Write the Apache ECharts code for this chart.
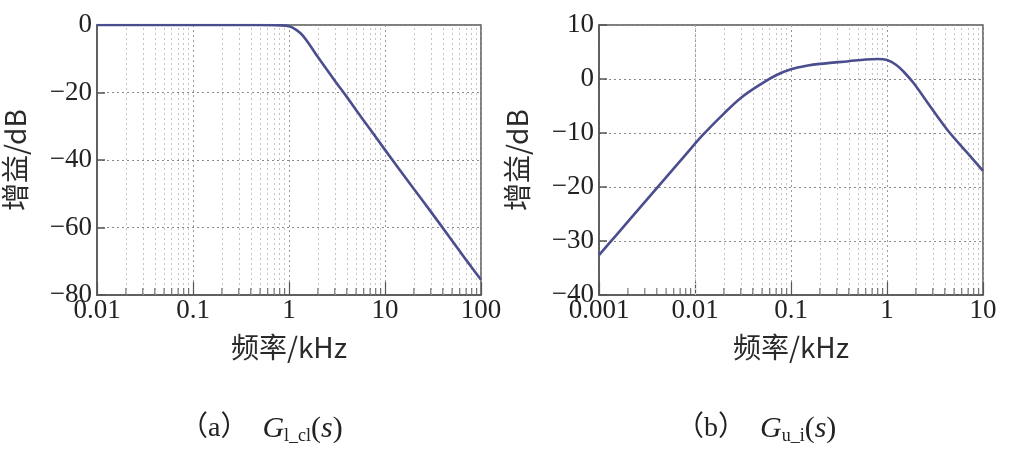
<!DOCTYPE html>
<html>
<head>
<meta charset="utf-8">
<script src="https://cdn.jsdelivr.net/npm/echarts@6/dist/echarts.min.js"></script>
<style>
html,body{margin:0;padding:0;background:#fff;}
#c{width:1009px;height:463px;}
</style>
</head>
<body>
<div id="c"></div>
<script>
// ---- data (frequency in kHz, gain in dB) ----
const freqA = [0.01, 0.1, 0.5, 0.8, 1.0, 1.2, 1.4, 1.7, 2, 3, 4, 5, 7, 10, 20, 30, 50, 70, 100];
const gainA = [0, 0, 0, -0.1, -0.4, -1.5, -3.2, -6.5, -9.5, -16.5, -21.3, -25.2, -30.9, -37, -48.6, -55.3, -63.9, -69.6, -75.5];

const freqB = [0.001, 0.0015, 0.002, 0.004, 0.008, 0.012, 0.02, 0.03, 0.05, 0.07, 0.1, 0.15, 0.2, 0.4, 0.6, 0.8, 1.0, 1.25, 1.5, 1.9, 2.8, 4.2, 6.8, 10];
const gainB = [-32.6, -29.0, -26.4, -20.2, -14.0, -10.4, -6.4, -3.5, -0.8, 0.7, 1.8, 2.5, 2.8, 3.3, 3.6, 3.7, 3.5, 2.6, 1.3, -0.8, -5.0, -9.3, -13.6, -17.0];

const xRangeA = [0.01, 100];
const xRangeB = [0.001, 10];
const yRangeA = [-80, 0], yStepA = 20;
const yRangeB = [-40, 10], yStepB = 10;

const xName = '频率/kHz';
const yName = '增益/dB';
const captionA = ['（a）', 'G', 'l_cl', '(', 's', ')'];
const captionB = ['（b）', 'G', 'u_i', '(', 's', ')'];

// minor (2..9 per decade) positions
function minorPositions(lo, hi) {
  const out = [];
  for (let d = lo; d < hi * 0.999; d *= 10) {
    for (let k = 2; k <= 9; k++) out.push(+(d * k).toPrecision(6));
  }
  return out;
}

const serif = 'Liberation Serif';
const lineColor = '#4b4e8e';
const fmtNum = v => String(v).replace('-', '\u2212');

function xAxisCfg(idx, range) {
  return {
    type: 'log', logBase: 10, gridIndex: idx, min: range[0], max: range[1],
    name: xName, nameLocation: 'middle', nameGap: 38,
    nameTextStyle: { fontFamily: 'Noto Sans CJK SC', fontSize: 28, color: '#2a2a2a' },
    axisLine: { show: true, onZero: false, lineStyle: { color: '#555', width: 1.5 } },
    axisTick: { show: true, inside: true, length: 13, lineStyle: { color: '#555', width: 1.2 } },
    axisLabel: { fontFamily: serif, fontSize: 27, color: '#222', margin: 2,
      formatter: v => String(+v.toPrecision(6)) },
    splitLine: { show: true, lineStyle: { color: '#9a9a9a', type: [2, 3], width: 1 } }
  };
}
function yAxisCfg(idx, range, step) {
  return {
    type: 'value', gridIndex: idx, min: range[0], max: range[1], interval: step,
    name: yName, nameLocation: 'middle', nameGap: 68, nameRotate: 90,
    nameTextStyle: { fontFamily: 'Noto Sans CJK SC', fontSize: 28, color: '#2a2a2a' },
    axisLine: { show: true, onZero: false, lineStyle: { color: '#555', width: 1.5 } },
    axisTick: { show: true, inside: true, length: 8, lineStyle: { color: '#555', width: 1.5 } },
    axisLabel: { fontFamily: serif, fontSize: 27, color: '#222', margin: 5, formatter: fmtNum },
    splitLine: { show: true, lineStyle: { color: '#8a8a8a', type: [2, 3], width: 1 } }
  };
}
function curveSeries(idx, fr, gn, xr, yr) {
  const minors = minorPositions(xr[0], xr[1]);
  return [{
    type: 'line', xAxisIndex: idx, yAxisIndex: idx,
    data: fr.map((f, i) => [f, gn[i]]),
    showSymbol: false, smooth: 0.35, z: 5,
    lineStyle: { color: lineColor, width: 2.6 },
    markLine: {
      silent: true, symbol: 'none', label: { show: false }, z: 1,
      lineStyle: { color: '#c4c4c4', type: [2, 3], width: 1 },
      data: minors.map(f => ({ xAxis: f }))
    }
  }, {
    type: 'scatter', xAxisIndex: idx, yAxisIndex: idx, silent: true, z: 4,
    symbol: 'rect', symbolSize: [1.2, 7], symbolOffset: [0, -3.5],
    itemStyle: { color: '#555' },
    data: minors.map(f => [f, yr[0]])
  }];
}

function captionText(parts) {
  return `{p|${parts[0]}}{g|${parts[1]}}{sub|${parts[2]}}{n|${parts[3]}}{s|${parts[4]}}{n|${parts[5]}}`;
}
const richStyles = {
  p: { fontFamily: 'Liberation Serif, Noto Sans CJK SC', fontSize: 28, fill: '#222', lineHeight: 32 },
  g: { fontFamily: serif, fontStyle: 'italic', fontSize: 30, fill: '#222', lineHeight: 32, padding: [0, 0, 0, 14] },
  sub: { fontFamily: serif, fontSize: 18, fill: '#222', verticalAlign: 'bottom', lineHeight: 24, padding: [13, 0, 0, 0] },
  n: { fontFamily: serif, fontSize: 30, fill: '#222', lineHeight: 32 },
  s: { fontFamily: serif, fontStyle: 'italic', fontSize: 30, fill: '#222', lineHeight: 32 }
};

const chart = echarts.init(document.getElementById('c'), null, { renderer: 'canvas' });
chart.setOption({
  backgroundColor: '#ffffff',
  animation: false,
  grid: [
    { left: 96, right: 528, top: 25, bottom: 168, show: true, borderColor: '#555', borderWidth: 1.5 },
    { left: 599, right: 26, top: 25, bottom: 168, show: true, borderColor: '#555', borderWidth: 1.5 }
  ],
  xAxis: [xAxisCfg(0, xRangeA), xAxisCfg(1, xRangeB)],
  yAxis: [yAxisCfg(0, yRangeA, yStepA), yAxisCfg(1, yRangeB, yStepB)],
  series: [
    ...curveSeries(0, freqA, gainA, xRangeA, yRangeA),
    ...curveSeries(1, freqB, gainB, xRangeB, yRangeB)
  ],
  graphic: [
    { type: 'text', left: 180, top: 414, style: { text: captionText(captionA), rich: richStyles } },
    { type: 'text', left: 676, top: 414, style: { text: captionText(captionB), rich: richStyles } }
  ]
});
</script>
</body>
</html>
